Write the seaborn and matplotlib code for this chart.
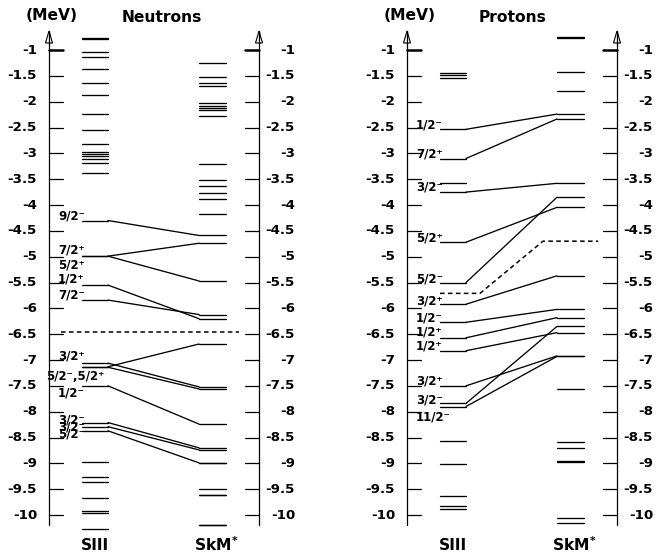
import numpy as np
import pandas as pd
import matplotlib
matplotlib.use("Agg")
import matplotlib.pyplot as plt
from matplotlib.patches import Polygon
import seaborn as sns

# ---------------- single-particle energies (MeV) ----------------
neutron_siii = [-0.76, -0.79, -1.045, -1.14, -1.37, -1.645, -1.865, -2.245, -2.55,
                -2.825, -2.97, -3.01, -3.05, -3.10, -3.19, -3.375, -4.30, -4.99,
                -4.99, -5.55, -5.84, -7.06, -7.13, -7.14, -7.50, -8.21, -8.29,
                -8.37, -8.97, -9.27, -9.37, -9.68, -9.92, -9.97, -10.27]
neutron_skm = [-1.26, -1.53, -1.64, -1.69, -2.03, -2.08, -2.12, -2.16, -2.27,
               -3.21, -3.52, -3.63, -3.77, -3.89, -4.17, -4.59, -4.74, -5.47,
               -6.12, -6.20, -6.69, -7.52, -7.56, -8.24, -8.70, -8.74, -8.99,
               -9.00, -9.50, -9.61, -9.62, -10.19, -10.20]
# correlated states: SIII energy -> SkM* energy
neutron_link_siii = [-4.30, -4.99, -4.99, -5.55, -5.84, -7.06, -7.13, -7.14,
                     -7.50, -8.21, -8.29, -8.37]
neutron_link_skm = [-4.59, -4.74, -5.47, -6.20, -6.12, -7.52, -6.69, -7.56,
                    -8.24, -8.70, -8.74, -8.99]
neutron_labels = ["9/2⁻", "7/2⁺", "5/2⁺", "1/2⁺", "7/2⁻", "3/2⁺", "5/2⁻,5/2⁺",
                  "1/2⁻", "3/2⁻", "3/2⁻", "5/2⁻"]
neutron_label_energy = [-4.30, -4.95, -5.24, -5.52, -5.82, -7.00, -7.41, -7.73,
                        -8.24, -8.38, -8.52]
neutron_fermi_siii = -6.45
neutron_fermi_skm = -6.45

proton_siii = [-1.44, -1.48, -1.54, -2.535, -3.10, -3.57, -3.75, -4.72, -5.50,
               -5.92, -6.27, -6.57, -6.82, -7.50, -7.84, -7.90, -8.56, -9.02,
               -9.63, -9.82, -9.88]
proton_skm = [-0.74, -0.77, -1.42, -1.79, -2.24, -2.335, -3.58, -3.85, -4.045,
              -5.37, -6.02, -6.18, -6.35, -6.47, -6.92, -6.93, -7.56, -8.59,
              -8.70, -8.95, -8.98, -10.06, -10.15]
proton_link_siii = [-2.535, -3.10, -3.75, -4.72, -5.50, -5.92, -6.27, -6.57,
                    -6.82, -7.50, -7.84, -7.90]
proton_link_skm = [-2.24, -2.335, -3.58, -4.045, -3.85, -5.37, -6.02, -6.18,
                   -6.47, -6.92, -6.35, -6.93]
proton_labels = ["1/2⁻", "7/2⁺", "3/2⁻", "5/2⁺", "5/2⁻", "3/2⁺", "1/2⁻", "1/2⁺",
                 "1/2⁺", "3/2⁺", "3/2⁻", "11/2⁻"]
proton_label_energy = [-2.535, -3.10, -3.74, -4.72, -5.51, -5.95, -6.27, -6.55,
                       -6.82, -7.49, -7.86, -8.19]
proton_fermi_siii = -5.71
proton_fermi_skm = -4.70

tick_values = [-1, -1.5, -2, -2.5, -3, -3.5, -4, -4.5, -5, -5.5, -6, -6.5, -7,
               -7.5, -8, -8.5, -9, -9.5, -10]
tick_labels = ["-1", "-1.5", "-2", "-2.5", "-3", "-3.5", "-4", "-4.5", "-5",
               "-5.5", "-6", "-6.5", "-7", "-7.5", "-8", "-8.5", "-9", "-9.5",
               "-10"]

# ---------------- style ----------------
sns.set_theme(style="white")
plt.rcParams["font.family"] = ["DejaVu Sans"]
plt.rcParams["font.weight"] = "bold"
plt.rcParams["mathtext.fontset"] = "dejavusans"
plt.rcParams["mathtext.default"] = "bf"

W, H = 657, 558
PX_PER_MEV = 51.67          # vertical scale of the drawing
E_TOP = -1 + 50 / PX_PER_MEV
E_BOT = -1 - (H - 50) / PX_PER_MEV


def dE(px):
    """Convert a vertical pixel distance into MeV."""
    return px / PX_PER_MEV


fig = plt.figure(figsize=(W / 100, H / 100), dpi=100)
ax = fig.add_axes([0, 0, 1, 1])
ax.set_xlim(0, W)
ax.set_ylim(E_BOT, E_TOP)
ax.axis("off")

# horizontal layout of one panel relative to its left energy axis
SIII_X = (33, 59)
SKM_X = (150, 177)
RIGHT_AXIS = 210
TICK_LEN = 14
AXIS_BOTTOM = -10.19


def panel(x0, siii, skm, link_siii, link_skm, labels, label_energy,
          fermi_siii, fermi_skm, fermi_start, title, title_x):
    rows = []
    uid = 0
    for e in siii:
        rows += [(x0 + SIII_X[0], e, uid), (x0 + SIII_X[1], e, uid)]
        uid += 1
    for e in skm:
        rows += [(x0 + SKM_X[0], e, uid), (x0 + SKM_X[1], e, uid)]
        uid += 1
    for es, ek in zip(link_siii, link_skm):
        rows += [(x0 + SIII_X[1], es, uid), (x0 + SKM_X[0], ek, uid)]
        uid += 1
    levels = pd.DataFrame(rows, columns=["x", "E", "unit"])
    sns.lineplot(data=levels, x="x", y="E", units="unit", estimator=None,
                 sort=False, color="black", lw=0.95, legend=False, ax=ax)

    # Fermi energies (dashed)
    if fermi_siii == fermi_skm:
        fx = [x0 + fermi_start, x0 + 190]
        fy = [fermi_siii, fermi_skm]
    else:
        fx = [x0 + fermi_start, x0 + 73, x0 + 136, x0 + 191]
        fy = [fermi_siii, fermi_siii, fermi_skm, fermi_skm]
    fermi = pd.DataFrame({"x": fx, "E": fy})
    sns.lineplot(data=fermi, x="x", y="E", sort=False, color="black", lw=1.1,
                 linestyle=(0, (3, 2.2)), legend=False, ax=ax)

    # energy axes with ticks
    for xa, sgn in ((x0, 1), (x0 + RIGHT_AXIS, -1)):
        tip = -1 + dE(19)
        base = -1 + dE(7)
        ax.plot([xa, xa], [AXIS_BOTTOM, tip], color="black", lw=0.9)
        ax.add_patch(Polygon([(xa - 3.5, base), (xa, tip), (xa + 3.5, base)],
                             closed=True, facecolor="white", edgecolor="black",
                             lw=0.8, zorder=3))
        ax.plot([xa, xa], [base, tip], color="black", lw=0.9, zorder=4)
        for v in tick_values:
            ax.plot([xa, xa + sgn * TICK_LEN], [v, v], color="black",
                    lw=1.8 if v == -1 else 0.9)

    for v, t in zip(tick_values, tick_labels):
        ax.text(x0 - 12, v, t, ha="right", va="center", fontsize=9.6,
                fontweight="bold", color="black")
        ax.text(x0 + 246, v, t, ha="right", va="center", fontsize=9.6,
                fontweight="bold", color="black")

    # state labels
    for t, e in zip(labels, label_energy):
        lx = x0 + (-3 if "," in t else 9)
        ax.text(lx, e + dE(1), t, ha="left", va="baseline", fontsize=8.5,
                fontweight="bold", color="black")

    # headers
    ax.text(x0 + 3, -1 + dE(35), "(MeV)", ha="center", va="center",
            fontsize=11.2, fontweight="bold", color="black")
    ax.text(x0 + title_x, -1 + dE(33), title, ha="left", va="center",
            fontsize=11.2, fontweight="bold", color="black")
    ax.text(x0 + 32, -1 - dE(495), "SIII", ha="left", va="center",
            fontsize=11.2, fontweight="bold", color="black")
    ax.text(x0 + 145, -1 - dE(495), "SkM$^{*}$", ha="left", va="center",
            fontsize=11.2, fontweight="bold", color="black")


panel(49, neutron_siii, neutron_skm, neutron_link_siii, neutron_link_skm,
      neutron_labels, neutron_label_energy, neutron_fermi_siii,
      neutron_fermi_skm, 12, "Neutrons", 73)
panel(407, proton_siii, proton_skm, proton_link_siii, proton_link_skm,
      proton_labels, proton_label_energy, proton_fermi_siii,
      proton_fermi_skm, 33, "Protons", 72)

fig.savefig("out.png", dpi=100, facecolor="white")
